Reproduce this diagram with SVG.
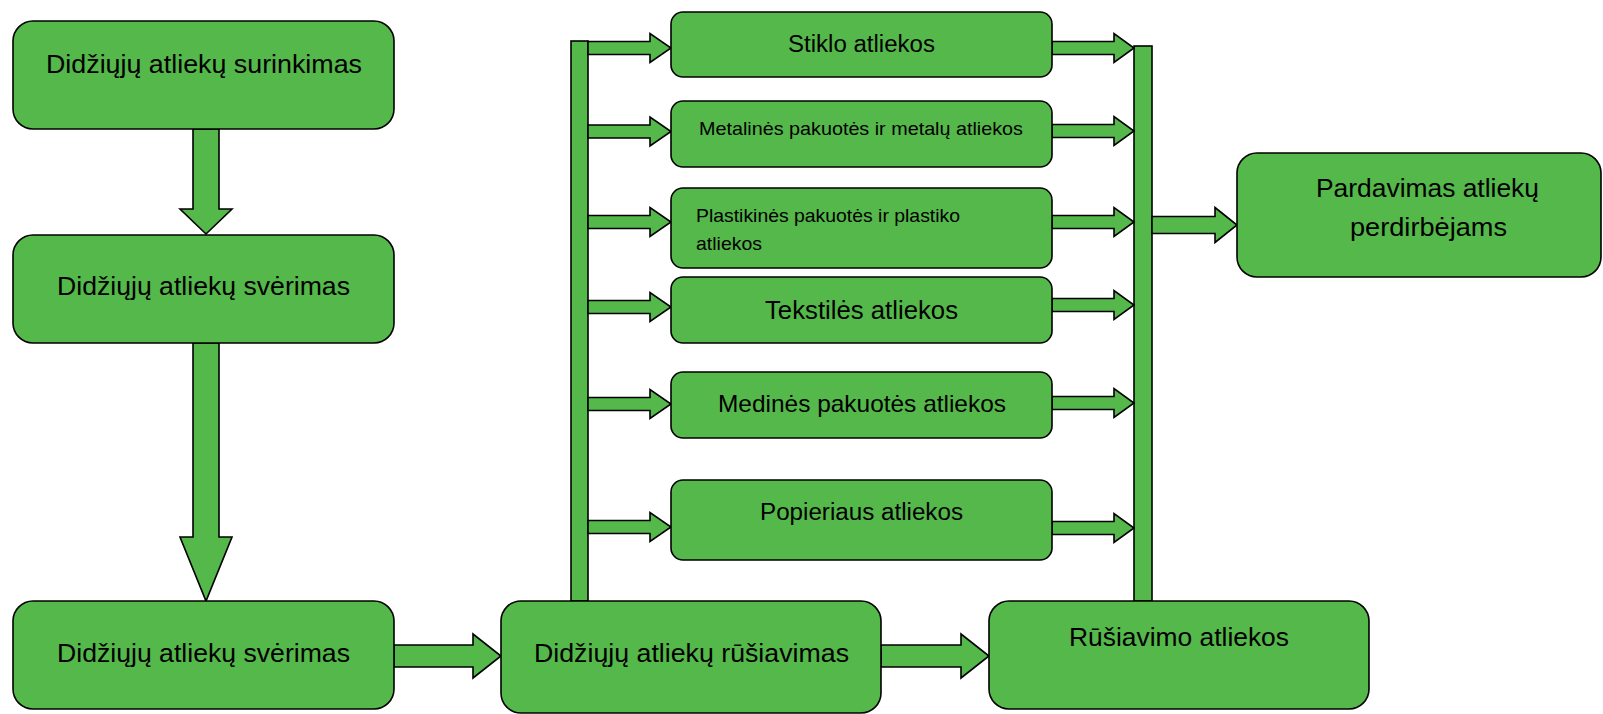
<svg xmlns="http://www.w3.org/2000/svg" width="1603" height="714" viewBox="0 0 1603 714">
<style>
.box{fill:#55b84a;stroke:#000;stroke-width:1.6}
.arr{fill:#55b84a;stroke:#000;stroke-width:1.6;stroke-linejoin:miter}
text{font-family:"Liberation Sans",Arial,sans-serif;fill:#000}
</style>
<rect width="1603" height="714" fill="#fff"/>
<g id="connectors">
<polygon class="arr" points="193,129 219,129 219,209 232,209 206,234 180,209 193,209"/>
<polygon class="arr" points="193,343 219,343 219,537 232,537 206,601 180,537 193,537"/>
<polygon class="arr" points="394,645 473,645 473,634 501,656 473,678 473,667 394,667"/>
<polygon class="arr" points="881,645 961,645 961,634 989,656 961,678 961,667 881,667"/>
<rect class="arr" x="571" y="41" width="17" height="560"/>
<rect class="arr" x="1134" y="46" width="18" height="555"/>
<polygon class="arr" points="588,41.5 650,41.5 650,33.5 671,48 650,62.5 650,54.5 588,54.5"/>
<polygon class="arr" points="588,125 650,125 650,117 671,131.5 650,146 650,138 588,138"/>
<polygon class="arr" points="588,215.5 650,215.5 650,207.5 671,222 650,236.5 650,228.5 588,228.5"/>
<polygon class="arr" points="588,300.5 650,300.5 650,292.5 671,307 650,321.5 650,313.5 588,313.5"/>
<polygon class="arr" points="588,397.5 650,397.5 650,389.5 671,404 650,418.5 650,410.5 588,410.5"/>
<polygon class="arr" points="588,520.5 650,520.5 650,512.5 671,527 650,541.5 650,533.5 588,533.5"/>
<polygon class="arr" points="1052,41.5 1114,41.5 1114,33.5 1134,48 1114,62.5 1114,54.5 1052,54.5"/>
<polygon class="arr" points="1052,124.5 1114,124.5 1114,116.5 1134,131 1114,145.5 1114,137.5 1052,137.5"/>
<polygon class="arr" points="1052,215.5 1114,215.5 1114,207.5 1134,222 1114,236.5 1114,228.5 1052,228.5"/>
<polygon class="arr" points="1052,298.5 1114,298.5 1114,290.5 1134,305 1114,319.5 1114,311.5 1052,311.5"/>
<polygon class="arr" points="1052,396.5 1114,396.5 1114,388.5 1134,403 1114,417.5 1114,409.5 1052,409.5"/>
<polygon class="arr" points="1052,521.5 1114,521.5 1114,513.5 1134,528 1114,542.5 1114,534.5 1052,534.5"/>
<polygon class="arr" points="1152,216.5 1215,216.5 1215,207.5 1237,225 1215,242.5 1215,233.5 1152,233.5"/>
</g>
<g id="n1"><rect class="box" x="13" y="21" width="381" height="108" rx="20"/><text x="46" y="73" font-size="25" textLength="316" lengthAdjust="spacingAndGlyphs">Didžiųjų atliekų surinkimas</text></g>
<g id="n2"><rect class="box" x="13" y="235" width="381" height="108" rx="20"/><text x="57" y="295" font-size="25" textLength="293" lengthAdjust="spacingAndGlyphs">Didžiųjų atliekų svėrimas</text></g>
<g id="n3"><rect class="box" x="13" y="601" width="381" height="108" rx="20"/><text x="57" y="662" font-size="25" textLength="293" lengthAdjust="spacingAndGlyphs">Didžiųjų atliekų svėrimas</text></g>
<g id="n4"><rect class="box" x="501" y="601" width="380" height="112" rx="20"/><text x="534" y="662" font-size="25" textLength="315" lengthAdjust="spacingAndGlyphs">Didžiųjų atliekų rūšiavimas</text></g>
<g id="n5"><rect class="box" x="989" y="601" width="380" height="108" rx="20"/><text x="1069" y="646" font-size="25" textLength="220" lengthAdjust="spacingAndGlyphs">Rūšiavimo atliekos</text></g>
<g id="n6"><rect class="box" x="671" y="12" width="381" height="65" rx="12"/><text x="788" y="52" font-size="23" textLength="147" lengthAdjust="spacingAndGlyphs">Stiklo atliekos</text></g>
<g id="n7"><rect class="box" x="671" y="101" width="381" height="66" rx="12"/><text x="699" y="135" font-size="18.5" textLength="324" lengthAdjust="spacingAndGlyphs">Metalinės pakuotės ir metalų atliekos</text></g>
<g id="n8"><rect class="box" x="671" y="188" width="381" height="80" rx="12"/><text x="696" y="222" font-size="18.5" textLength="264" lengthAdjust="spacingAndGlyphs">Plastikinės pakuotės ir plastiko</text><text x="696" y="250" font-size="18.5" textLength="66" lengthAdjust="spacingAndGlyphs">atliekos</text></g>
<g id="n9"><rect class="box" x="671" y="277" width="381" height="66" rx="12"/><text x="765" y="319" font-size="26" textLength="193" lengthAdjust="spacingAndGlyphs">Tekstilės atliekos</text></g>
<g id="n10"><rect class="box" x="671" y="372" width="381" height="66" rx="12"/><text x="718" y="412" font-size="24" textLength="288" lengthAdjust="spacingAndGlyphs">Medinės pakuotės atliekos</text></g>
<g id="n11"><rect class="box" x="671" y="480" width="381" height="80" rx="12"/><text x="760" y="520" font-size="23" textLength="203" lengthAdjust="spacingAndGlyphs">Popieriaus atliekos</text></g>
<g id="n12"><rect class="box" x="1237" y="153" width="364" height="124" rx="20"/><text x="1316" y="197" font-size="25" textLength="223" lengthAdjust="spacingAndGlyphs">Pardavimas atliekų</text><text x="1350" y="236" font-size="25" textLength="157" lengthAdjust="spacingAndGlyphs">perdirbėjams</text></g>
</svg>
